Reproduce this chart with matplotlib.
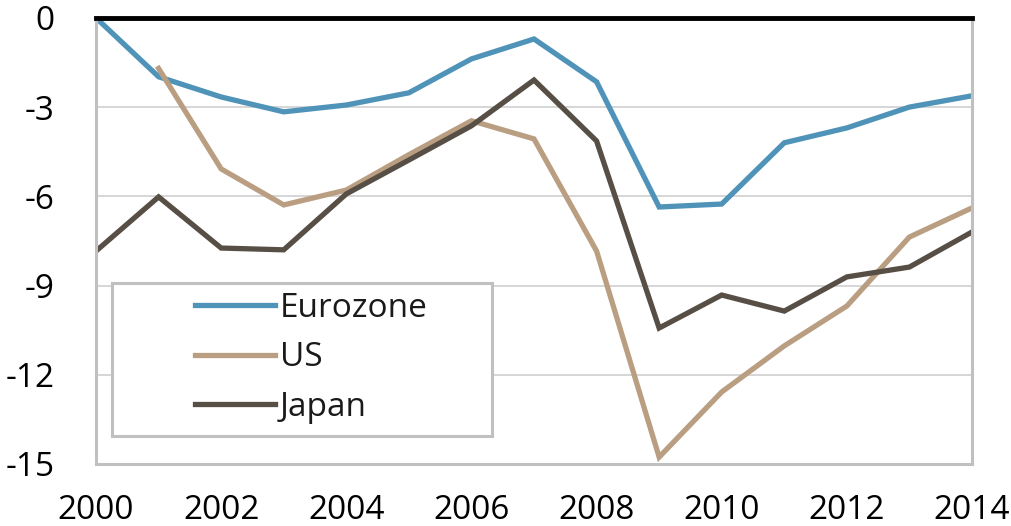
import numpy as np
import matplotlib.pyplot as plt
from matplotlib.patches import Rectangle

years = list(range(2000, 2015))
eurozone = [0, -1.98, -2.66, -3.16, -2.93, -2.52, -1.38, -0.71, -2.15, -6.36, -6.26, -4.2, -3.7, -3.0, -2.62]
us = [np.nan, -1.7, -5.08, -6.29, -5.79, -4.6, -3.46, -4.07, -7.84, -14.77, -12.58, -11.03, -9.69, -7.37, -6.39]
japan = [-7.84, -6.02, -7.74, -7.8, -5.92, -4.78, -3.63, -2.09, -4.14, -10.43, -9.32, -9.86, -8.71, -8.38, -7.2]

plt.rcParams['font.family'] = ['Open Sans', 'DejaVu Sans']

fig = plt.figure(figsize=(10.11, 5.26), dpi=100)
ax = fig.add_axes([0.095, 0.118, 0.8664, 0.848])

ax.plot(years, eurozone, color='#4F93B8', lw=3.8, label='Eurozone', solid_joinstyle='miter')
ax.plot(years, us, color='#BA9E82', lw=3.8, label='US', solid_joinstyle='miter')
ax.plot(years, japan, color='#574F46', lw=3.8, label='Japan', solid_joinstyle='miter')

ax.set_xlim(2000, 2014)
ax.set_ylim(-15, 0)
ax.set_xticks(range(2000, 2015, 2))
ax.set_yticks([0, -3, -6, -9, -12, -15])
ax.set_yticklabels(['0', '-3', '-6', '-9', '-12', '-15'])
ax.tick_params(axis='both', length=0, labelsize=24)
ax.tick_params(axis='y', pad=30)
ax.tick_params(axis='x', pad=22)

for v in [-3, -6, -9, -12]:
    ax.axhline(v, color='#D0D0D0', lw=1.2, zorder=0)
ax.axhline(0, color='black', lw=3.5, zorder=3, clip_on=False)

for s in ['left', 'right', 'bottom']:
    ax.spines[s].set_color('#C0C0C0')
    ax.spines[s].set_linewidth(2.2)
ax.spines['top'].set_visible(False)

# legend box drawn separately so its size matches the original
ax.add_patch(Rectangle((0.0183, 0.0628), 0.4337, 0.3432, transform=ax.transAxes,
                       facecolor='white', edgecolor='#C0C0C0', lw=2.2, zorder=4))
leg = ax.legend(loc='center left', bbox_to_anchor=(0.113, 0.2377), fontsize=24,
                frameon=False, handlelength=2.4, handletextpad=0.15,
                labelspacing=0.49, borderpad=0, borderaxespad=0)
leg.set_zorder(5)
for t in leg.get_texts():
    t.set_color('#1a1a1a')

fig.savefig('out.png', dpi=100)
